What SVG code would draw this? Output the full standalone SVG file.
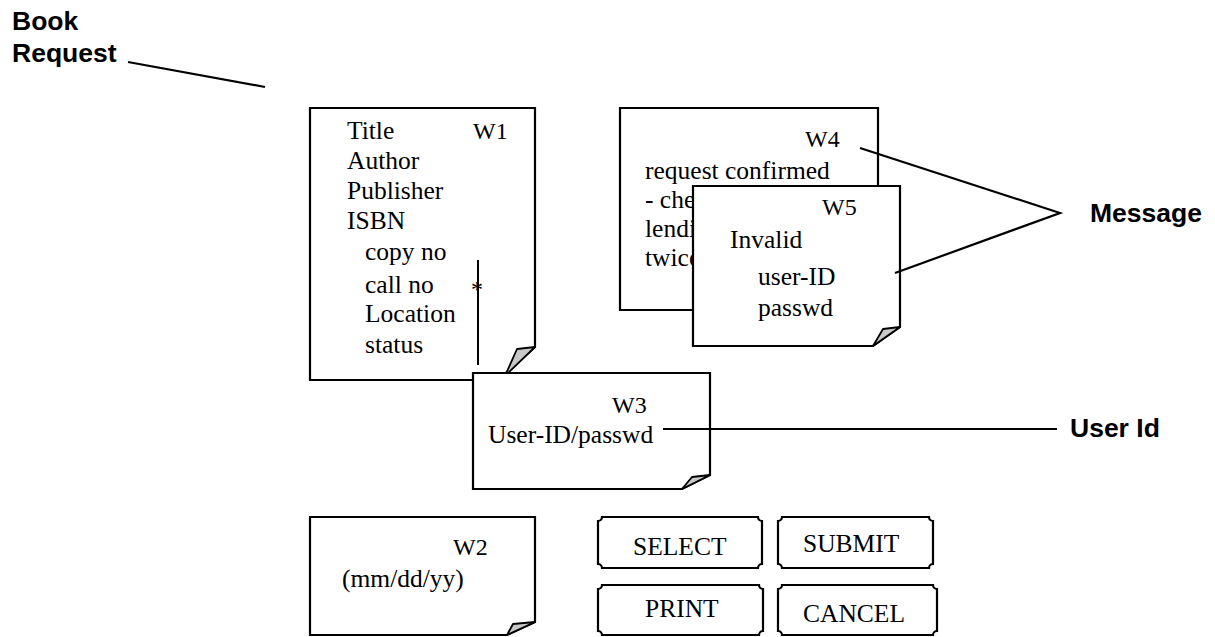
<svg xmlns="http://www.w3.org/2000/svg" width="1215" height="637" viewBox="0 0 1215 637">
<style>
.page{fill:#fff;stroke:#000;stroke-width:2.2;stroke-linejoin:miter}
.fold{fill:#c8c8c8;stroke:#000;stroke-width:1.8;stroke-linejoin:round}
.t{font-family:"Liberation Serif","Times New Roman",serif;font-size:25.5px;fill:#000}
.w{font-size:24px}
.lbl{font-family:"Liberation Sans",Arial,sans-serif;font-size:26.5px;font-weight:bold;fill:#000}
.btn{fill:#fff;stroke:#000;stroke-width:2.2}
.con{stroke:#000;stroke-width:2.2;fill:none}
</style>
<rect width="1215" height="637" fill="#fff"/>

<g id="W1">
<path class="page" d="M310,108 H535 V347 L498,380 H310 Z"/>
<path class="fold" d="M535,347 L517,349 L505,376 Z"/>
<text class="t w" x="473" y="139">W1</text>
<text class="t" x="347" y="139">Title</text>
<text class="t" x="347" y="169">Author</text>
<text class="t" x="347" y="199">Publisher</text>
<text class="t" x="347" y="229">ISBN</text>
<text class="t" x="365" y="260">copy no</text>
<text class="t" x="365" y="293">call no</text>
<text class="t" x="365" y="322">Location</text>
<text class="t" x="365" y="353">status</text>
<line x1="478" y1="260" x2="478" y2="365" stroke="#000" stroke-width="2"/>
<text class="t" x="471" y="297" style="font-size:24px">*</text>
</g>

<g id="W4">
<path class="page" d="M620,108 H878 V310 H620 Z"/>
<text class="t w" x="805" y="147">W4</text>
<text class="t" x="645" y="179">request confirmed</text>
<text class="t" x="645" y="208">- che</text>
<text class="t" x="645" y="237">lendi</text>
<text class="t" x="645" y="266">twice</text>
</g>

<g id="W5">
<path class="page" d="M693,186 H900 V327 L873,346 H693 Z"/>
<path class="fold" d="M900,327 L883,329 L873,346 Z"/>
<text class="t w" x="822" y="215">W5</text>
<text class="t" x="730" y="248">Invalid</text>
<text class="t" x="758" y="285">user-ID</text>
<text class="t" x="758" y="316">passwd</text>
</g>

<g id="W3">
<path class="page" d="M473,373 H710 V475 L682,489 H473 Z"/>
<path class="fold" d="M710,475 L692,477 L682,489 Z"/>
<text class="t w" x="612" y="413">W3</text>
<text class="t" x="488" y="443">User-ID/passwd</text>
</g>

<g id="W2">
<path class="page" d="M310,517 H535 V622 L507,635 H310 Z"/>
<path class="fold" d="M535,622 L513,624 L507,635 Z"/>
<text class="t w" x="453" y="555">W2</text>
<text class="t" x="342" y="587">(mm/dd/yy)</text>
</g>

<g id="SELECT">
<path class="btn" d="M602,517 H758 A4,4 0 0 0 762,521 V564 A4,4 0 0 0 758,568 H602 A4,4 0 0 0 598,564 V521 A4,4 0 0 0 602,517 Z"/>
<text class="t" x="633" y="555">SELECT</text>
</g>
<g id="SUBMIT">
<path class="btn" d="M782,517 H929 A4,4 0 0 0 933,521 V564 A4,4 0 0 0 929,568 H782 A4,4 0 0 0 778,564 V521 A4,4 0 0 0 782,517 Z"/>
<text class="t" x="803" y="552">SUBMIT</text>
</g>
<g id="PRINT">
<path class="btn" d="M602,585 H759 A4,4 0 0 0 763,589 V631 A4,4 0 0 0 759,635 H602 A4,4 0 0 0 598,631 V589 A4,4 0 0 0 602,585 Z"/>
<text class="t" x="645" y="617">PRINT</text>
</g>
<g id="CANCEL">
<path class="btn" d="M782,585 H933 A4,4 0 0 0 937,589 V631 A4,4 0 0 0 933,635 H782 A4,4 0 0 0 778,631 V589 A4,4 0 0 0 782,585 Z"/>
<text class="t" x="803" y="622">CANCEL</text>
</g>

<g id="BookRequest">
<text class="lbl" x="12" y="30">Book</text>
<text class="lbl" x="12" y="62">Request</text>
</g>
<g id="Message">
<text class="lbl" x="1090" y="222">Message</text>
</g>
<g id="UserId">
<text class="lbl" x="1070" y="437">User Id</text>
</g>

<g id="connectors">
<line class="con" x1="128" y1="62" x2="265" y2="87"/>
<polyline class="con" points="860,148 1060,213 895,273"/>
<line class="con" x1="663" y1="429" x2="1057" y2="429"/>
</g>
</svg>
